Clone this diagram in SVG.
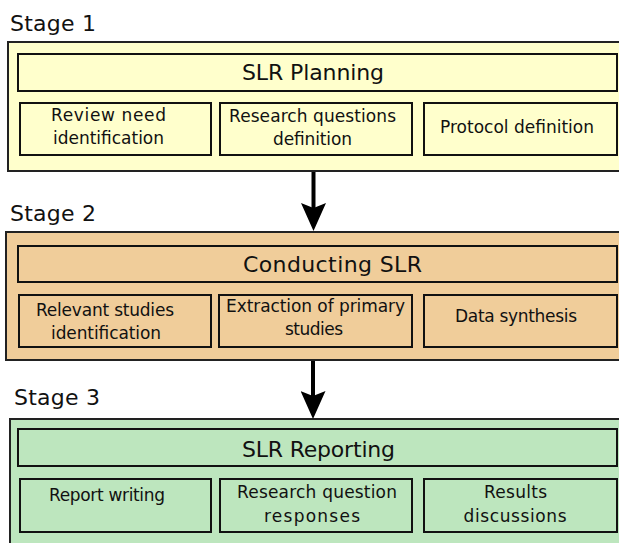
<svg xmlns="http://www.w3.org/2000/svg" width="619" height="543" viewBox="0 0 619 543">
  <defs>
    <style>
      .stage-title { font-family: "DejaVu Sans", "Liberation Sans", sans-serif; font-size: 22px; fill: #111; }
      .head-label { font-family: "DejaVu Sans", "Liberation Sans", sans-serif; font-size: 22px; fill: #111; }
      .label { font-family: "DejaVu Sans", "Liberation Sans", sans-serif; font-size: 17px; fill: #111; text-anchor: middle; }
      .frame { stroke: #222; stroke-width: 2; }
      .box { fill: none; stroke: #111; stroke-width: 2; }
      .s1 { fill: #FFFFCC; }
      .s2 { fill: #F0CD9A; }
      .s3 { fill: #BDE6BE; }
      .flow { stroke: #000; stroke-width: 4; fill: none; marker-end: url(#head); }
    </style>
    <!-- solid arrowhead with a shallow notched back -->
    <marker id="head" markerUnits="userSpaceOnUse" markerWidth="28" markerHeight="25"
            viewBox="0 0 28 25" refX="5" refY="12.5" orient="auto">
      <path d="M0,0 L28,12.5 L0,25 L5,12.5 Z" fill="#000"/>
    </marker>
  </defs>

  <!-- Stage 1: planning -->
  <g id="stage1">
    <text class="stage-title" x="10" y="31" textLength="86">Stage 1</text>
    <rect class="frame s1" x="8" y="42" width="620" height="129"/>
    <g id="slr-planning">
      <rect class="box" x="18" y="54" width="599" height="37"/>
      <text class="head-label" x="242" y="80" textLength="142">SLR Planning</text>
    </g>
    <g id="review-need">
      <rect class="box" x="20" y="103" width="191" height="52"/>
      <text class="label" x="108.5" y="121" textLength="115">Review need</text>
      <text class="label" x="108.5" y="144" textLength="111">identification</text>
    </g>
    <g id="research-questions">
      <rect class="box" x="220" y="103" width="192" height="52"/>
      <text class="label" x="312.5" y="122" textLength="167">Research questions</text>
      <text class="label" x="312.5" y="145" textLength="79">definition</text>
    </g>
    <g id="protocol">
      <rect class="box" x="424" y="103" width="193" height="52"/>
      <text class="label" x="517" y="133" textLength="154">Protocol definition</text>
    </g>
  </g>

  <!-- Stage 2: conducting -->
  <g id="stage2">
    <text class="stage-title" x="10" y="221" textLength="86">Stage 2</text>
    <rect class="frame s2" x="6" y="232" width="622" height="128"/>
    <g id="conducting-slr">
      <rect class="box" x="18" y="246" width="599" height="36"/>
      <text class="head-label" x="243" y="272" textLength="179">Conducting SLR</text>
    </g>
    <g id="relevant-studies">
      <rect class="box" x="19" y="295" width="192" height="52"/>
      <text class="label" x="105" y="316" textLength="138">Relevant studies</text>
      <text class="label" x="106" y="339" textLength="110">identification</text>
    </g>
    <g id="extraction">
      <rect class="box" x="219" y="295" width="193" height="52"/>
      <text class="label" x="315.5" y="312" textLength="179">Extraction of primary</text>
      <text class="label" x="314" y="335" textLength="58">studies</text>
    </g>
    <g id="data-synthesis">
      <rect class="box" x="424" y="295" width="193" height="52"/>
      <text class="label" x="516" y="322" textLength="122">Data synthesis</text>
    </g>
  </g>

  <!-- Stage 3: reporting -->
  <g id="stage3">
    <text class="stage-title" x="14" y="405" textLength="86">Stage 3</text>
    <rect class="frame s3" x="10" y="419" width="618" height="134"/>
    <g id="slr-reporting">
      <rect class="box" x="18" y="429" width="599" height="37"/>
      <text class="head-label" x="242" y="457" textLength="153">SLR Reporting</text>
    </g>
    <g id="report-writing">
      <rect class="box" x="20" y="479" width="191" height="53"/>
      <text class="label" x="107" y="501" textLength="116">Report writing</text>
    </g>
    <g id="rq-responses">
      <rect class="box" x="220" y="479" width="192" height="53"/>
      <text class="label" x="317" y="498" textLength="160">Research question</text>
      <text class="label" x="312" y="522" textLength="96">responses</text>
    </g>
    <g id="results-discussions">
      <rect class="box" x="424" y="479" width="193" height="53"/>
      <text class="label" x="515.5" y="498" textLength="63">Results</text>
      <text class="label" x="515" y="522" textLength="103">discussions</text>
    </g>
  </g>

  <!-- stage-to-stage flow -->
  <g id="connectors">
    <line class="flow" x1="313.5" y1="172" x2="313.5" y2="208"/>
    <line class="flow" x1="313" y1="361" x2="313" y2="396"/>
  </g>
</svg>
